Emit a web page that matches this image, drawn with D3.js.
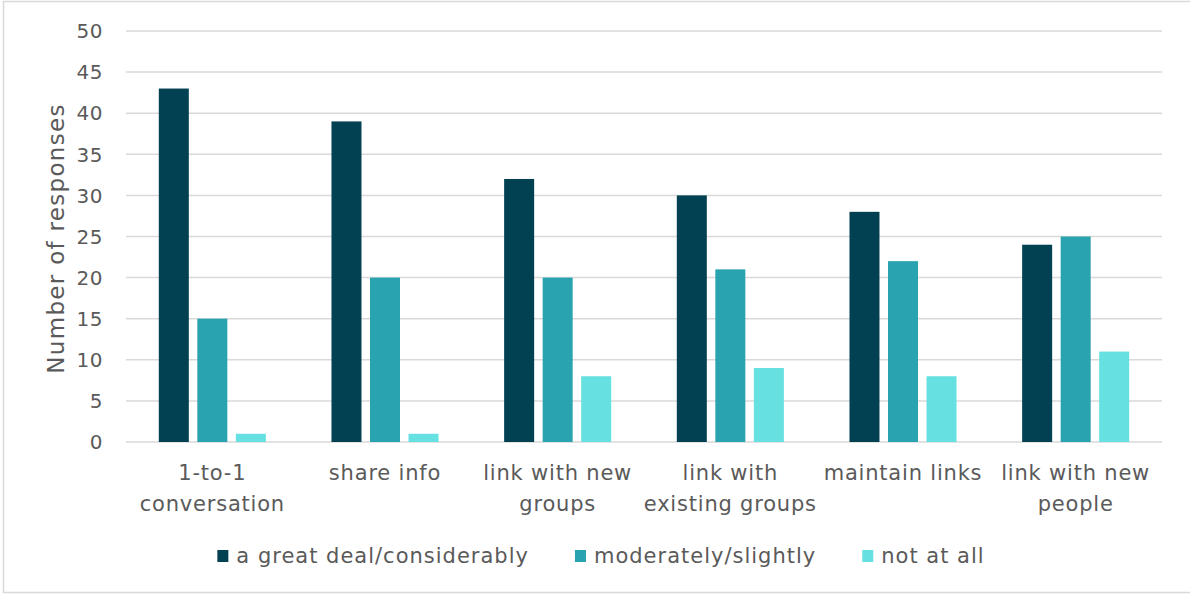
<!DOCTYPE html>
<html>
<head>
<meta charset="utf-8">
<script src="https://cdn.jsdelivr.net/npm/d3@7"></script>
<style>
  html, body { margin: 0; padding: 0; background: #fff; }
  svg { display: block; }
  text { font-family: "DejaVu Sans", sans-serif; fill: #5a5a5a; }
</style>
</head>
<body>
<svg id="chart" width="1190" height="594"></svg>
<script>
// Survey responses per networking activity
const categories = [
  "1-to-1 conversation",
  "share info",
  "link with new groups",
  "link with existing groups",
  "maintain links",
  "link with new people"
];
const categoryLines = [
  ["1-to-1", "conversation"],
  ["share info"],
  ["link with new", "groups"],
  ["link with", "existing groups"],
  ["maintain links"],
  ["link with new", "people"]
];
const seriesNames = ["a great deal/considerably", "moderately/slightly", "not at all"];
const greatDeal = [43, 39, 32, 30, 28, 24];
const moderately = [15, 20, 20, 21, 22, 25];
const notAtAll = [1, 1, 8, 9, 8, 11];
const yTicks = [0, 5, 10, 15, 20, 25, 30, 35, 40, 45, 50];
const yTitle = "Number of responses";

const colors = ["#024152", "#29a3b0", "#66e0e0"];
const seriesValues = [greatDeal, moderately, notAtAll];

const svg = d3.select("#chart");
const W = 1190, H = 594;
const plot = { left: 126, right: 1162, top: 31, bottom: 442 };

// chart frame
svg.append("rect")
  .attr("x", 3.5).attr("y", 1.5)
  .attr("width", W).attr("height", 591)
  .attr("fill", "#fff").attr("stroke", "#d9d9d9").attr("stroke-width", 1.5);

const y = d3.scaleLinear().domain([0, 50]).range([plot.bottom, plot.top]);
const x0 = d3.scaleBand().domain(categories).range([plot.left, plot.right])
  .paddingInner(0.38).paddingOuter(0.19);
const x1 = d3.scaleBand().domain(seriesNames).range([0, x0.bandwidth()])
  .paddingInner(0.221).paddingOuter(0);

// gridlines
svg.append("g").selectAll("line").data(yTicks).join("line")
  .attr("x1", plot.left).attr("x2", plot.right)
  .attr("y1", d => y(d)).attr("y2", d => y(d))
  .attr("stroke", "#d9d9d9").attr("stroke-width", 1.5);

// y tick labels
svg.append("g").selectAll("text").data(yTicks).join("text")
  .attr("x", 103).attr("y", d => y(d))
  .attr("dy", "0.36em")
  .attr("text-anchor", "end")
  .style("font-size", "20px")
  .style("letter-spacing", "0.5px")
  .text(d => d);

// y axis title
svg.append("text")
  .attr("transform", `translate(64,${(plot.top + plot.bottom) / 2 + 2}) rotate(-90)`)
  .attr("text-anchor", "middle")
  .style("font-size", "23px")
  .style("letter-spacing", "1.3px")
  .text(yTitle);

// bars
const rows = categories.map((c, i) => ({
  category: c,
  values: seriesNames.map((s, j) => ({ series: s, value: seriesValues[j][i], color: colors[j] }))
}));

svg.append("g").selectAll("g").data(rows).join("g")
  .attr("transform", d => `translate(${x0(d.category)},0)`)
  .selectAll("rect").data(d => d.values).join("rect")
  .attr("x", d => x1(d.series))
  .attr("width", x1.bandwidth())
  .attr("y", d => y(d.value))
  .attr("height", d => y(0) - y(d.value))
  .attr("fill", d => d.color);

// category labels
const catG = svg.append("g").selectAll("text").data(categories).join("text")
  .attr("text-anchor", "middle")
  .attr("x", d => x0(d) + x0.bandwidth() / 2)
  .attr("y", 480)
  .style("font-size", "21px")
  .style("letter-spacing", "0.8px");
catG.each(function(d, i) {
  d3.select(this).selectAll("tspan").data(categoryLines[i]).join("tspan")
    .attr("x", x0(d) + x0.bandwidth() / 2)
    .attr("dy", (l, k) => k === 0 ? 0 : 31)
    .text(l => l);
});

// legend
const legend = svg.append("g");
const items = legend.selectAll("g").data(seriesNames).join("g");
items.append("rect")
  .attr("width", 11).attr("height", 12).attr("y", -13)
  .attr("fill", (d, i) => colors[i]);
items.append("text")
  .attr("x", 19).attr("y", 0)
  .style("font-size", "21px")
  .style("letter-spacing", "1px")
  .text(d => d);
let cursor = 0;
const itemGap = 46;
items.each(function() {
  const w = this.getBBox().width;
  d3.select(this).attr("transform", `translate(${cursor},0)`);
  cursor += w + itemGap;
});
const totalW = cursor - itemGap;
legend.attr("transform", `translate(${601 - totalW / 2},563)`);
</script>
</body>
</html>
